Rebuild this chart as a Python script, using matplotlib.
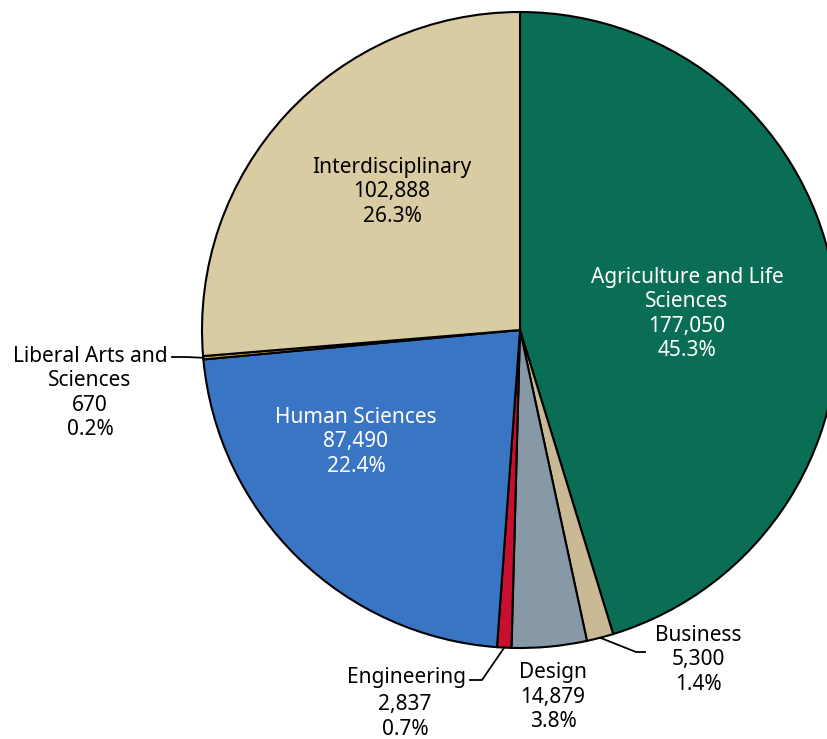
import numpy as np
import matplotlib.pyplot as plt

# Enrollment by college
colleges = ["Agriculture and Life\nSciences", "Business", "Design", "Engineering",
            "Human Sciences", "Liberal Arts and\nSciences", "Interdisciplinary"]
counts = [177050, 5300, 14879, 2837, 87490, 670, 102888]
shares = [45.3, 1.4, 3.8, 0.7, 22.4, 0.2, 26.3]
colors = ["#0a6e55", "#c9b994", "#8799a7", "#c8102e", "#3a75c4", "#d9a53a", "#d9cca2"]

plt.rcParams['font.family'] = ['Noto Sans', 'DejaVu Sans']

W, H = 827, 739
fig = plt.figure(figsize=(W / 100, H / 100), dpi=100)
ax = fig.add_axes([0, 0, 1, 1])

cx, cy, r = 520, H - 330, 318
wedges, _ = ax.pie(counts, colors=colors, startangle=90, counterclock=False,
                   center=(cx, cy), radius=r, frame=True,
                   wedgeprops=dict(edgecolor='black', linewidth=1.5))
ax.set_xlim(0, W)
ax.set_ylim(0, H)
ax.set_aspect('equal')
ax.axis('off')

FS = 15
LS = 1.22

# label layout: (text x, text y in image px, color, leader elbow points or None)
layout = {
    0: (687, 314, 'white', None),
    1: (698, 660, 'black', [(645, 652), (636, 652)]),
    2: (553, 697, 'black', None),
    3: (405, 717, 'black', [(470, 680), (482, 680)]),
    4: (356, 442, 'white', None),
    5: (90, 393, 'black', [(172, 357), (186, 357)]),
    6: (392, 192, 'black', None),
}

for i, w in enumerate(wedges):
    tx, ty, col, leader = layout[i]
    label = f"{colleges[i]}\n{counts[i]:,}\n{shares[i]}%"
    if i == 3:
        # Engineering: name sits to the left, numbers centered below
        ax.text(466, H - 678, colleges[i], ha='right', va='center', fontsize=FS, color=col)
        ax.text(tx, H - ty, f"{counts[i]:,}\n{shares[i]}%", ha='center', va='center',
                fontsize=FS, color=col, linespacing=LS)
    else:
        ax.text(tx, H - ty, label, ha='center', va='center', fontsize=FS,
                color=col, linespacing=LS)
    if leader:
        ang = np.deg2rad((w.theta1 + w.theta2) / 2)
        ex, ey = cx + r * np.cos(ang), cy + r * np.sin(ang)
        xs = [p[0] for p in leader] + [ex]
        ys = [H - p[1] for p in leader] + [ey]
        ax.plot(xs, ys, color='black', lw=1.3)

fig.savefig("out.png", dpi=100)
